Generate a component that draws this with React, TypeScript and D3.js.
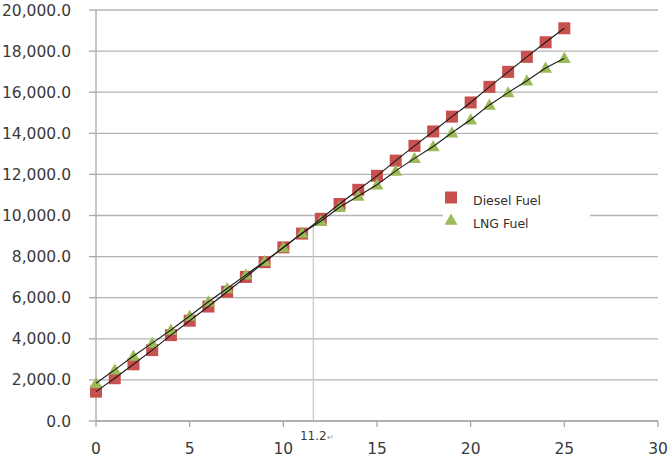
import React from "react";
import * as d3 from "d3";

const years = [0,1,2,3,4,5,6,7,8,9,10,11,12,13,14,15,16,17,18,19,20,21,22,23,24,25];
const dieselFuel = [1430,2080,2760,3450,4180,4880,5570,6290,7010,7730,8450,9120,9840,10560,11250,11930,12670,13390,14090,14810,15500,16260,16990,17720,18430,19110];
const lngFuel = [1840,2490,3160,3790,4430,5110,5800,6450,7110,7770,8440,9150,9720,10400,10950,11500,12170,12780,13360,14030,14660,15380,15980,16560,17180,17650];
const yTicks = [0,2000,4000,6000,8000,10000,12000,14000,16000,18000,20000];
const xTicks = [0,5,10,15,20,25,30];
const seriesNames = ["Diesel Fuel", "LNG Fuel"];
const crossX = 11.6;
const crossLabel = "11.2";

const W = 672, H = 463;
const FONT = "'DejaVu Sans', sans-serif";

export default function App() {
  const x = d3.scaleLinear().domain([0, 30]).range([96, 658]);
  const y = d3.scaleLinear().domain([0, 20000]).range([421, 10]);
  const fmt = d3.format(",.1f");

  const dPts = years.map((t, i) => [t, dieselFuel[i]] as [number, number]);
  const lPts = years.map((t, i) => [t, lngFuel[i]] as [number, number]);
  const line = d3.line<[number, number]>().x(d => x(d[0])).y(d => y(d[1]));

  const interp = (arr: number[], t: number) => {
    const i = Math.floor(t);
    const f = t - i;
    return arr[i] + (arr[i + 1] - arr[i]) * f;
  };
  const crossY = interp(dieselFuel, crossX);

  const tri = d3.symbol().type(d3.symbolTriangle).size(72)();
  const sq = 12;

  return (
    <svg width={W} height={H} style={{ position: "absolute", left: 0, top: 0, background: "#fff" }}>
      {yTicks.map(v => (
        <line key={"g" + v} x1={x(0)} x2={x(30)} y1={y(v)} y2={y(v)} stroke="#b4b4b4" strokeWidth={1.3} />
      ))}
      <line x1={x(0)} x2={x(0)} y1={y(20000)} y2={y(0)} stroke="#a8a8a8" strokeWidth={1.3} />
      {yTicks.map(v => (
        <line key={"yt" + v} x1={x(0) - 7} x2={x(0)} y1={y(v)} y2={y(v)} stroke="#a8a8a8" strokeWidth={1.3} />
      ))}
      {yTicks.map(v => (
        <text key={"yl" + v} x={71} y={y(v)} dy="0.36em" textAnchor="end" fontFamily={FONT} fontSize={15.5} fill="#3a3a3a">
          {fmt(v)}
        </text>
      ))}
      <line x1={x(0)} x2={x(30)} y1={y(0)} y2={y(0)} stroke="#a8a8a8" strokeWidth={1.3} />
      {xTicks.map(v => (
        <line key={"xt" + v} x1={x(v)} x2={x(v)} y1={y(0)} y2={y(0) + 6} stroke="#a8a8a8" strokeWidth={1.3} />
      ))}
      {xTicks.map(v => (
        <text key={"xl" + v} x={x(v)} y={454} textAnchor="middle" fontFamily={FONT} fontSize={15.5} fill="#3a3a3a">
          {v}
        </text>
      ))}
      <line x1={x(crossX)} x2={x(crossX)} y1={y(crossY)} y2={y(0)} stroke="#c4c4c4" strokeWidth={1.2} />
      <text x={x(crossX)} y={440} textAnchor="middle" fontFamily={FONT} fontSize={12} fill="#3a3a3a">
        {crossLabel}
      </text>
      <text x={x(crossX) + 14} y={440} fontFamily={FONT} fontSize={8} fill="#909090">↵</text>

      <rect x={443} y={182} width={147} height={56} fill="#fff" />

      {dPts.map((d, i) => (
        <rect key={"d" + i} x={x(d[0]) - sq / 2} y={y(d[1]) - sq / 2} width={sq} height={sq} fill="#c8504e" />
      ))}
      {lPts.map((d, i) => (
        <path key={"l" + i} d={tri || ""} transform={`translate(${x(d[0])},${y(d[1]) + 1})`} fill="#9bbb59" />
      ))}
      <path d={line(dPts) || ""} fill="none" stroke="#1a1a1a" strokeWidth={1.1} />
      <path d={line(lPts) || ""} fill="none" stroke="#1a1a1a" strokeWidth={1.1} />

      <rect x={451 - sq / 2} y={197.5 - sq / 2} width={sq} height={sq} fill="#c8504e" />
      <path d={tri || ""} transform={`translate(451,221)`} fill="#9bbb59" />
      <text x={473} y={200} dy="0.36em" fontFamily={FONT} fontSize={12.5} fill="#303030">{seriesNames[0]}</text>
      <text x={473} y={223.5} dy="0.36em" fontFamily={FONT} fontSize={12.5} fill="#303030">{seriesNames[1]}</text>
    </svg>
  );
}
